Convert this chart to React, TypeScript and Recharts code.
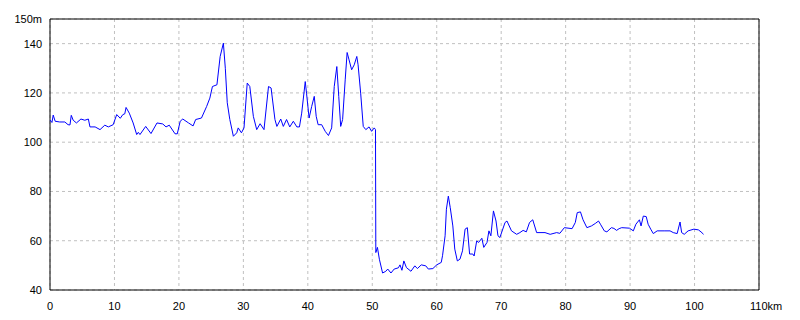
import { CartesianGrid, Line, LineChart, ReferenceArea, XAxis, YAxis } from "recharts";

const distances = [
  0, 0.3, 0.5, 0.8, 1.5, 2.3, 2.8, 3.1, 3.3, 3.6, 4.1, 4.8, 5.4, 5.95, 6.2, 7.0, 7.76, 8.5, 9.05, 9.8,
  10.35, 10.9, 11.3, 11.6, 11.8, 12.3, 12.9, 13.45, 13.7, 13.96, 14.85, 15.67, 16.6, 17.5, 18.0, 18.5,
  19.4, 19.75, 20.2, 20.6, 21.5, 22.2, 22.6, 23.5, 24.3, 24.8, 25.2, 25.9, 26.4, 26.9, 27.2, 27.5, 27.9,
  28.45, 28.97, 29.2, 29.7, 30.1, 30.6, 31.0, 31.55, 32.07, 32.6, 33.2, 33.9, 34.3, 34.9, 35.2, 35.8,
  36.2, 36.7, 37.2, 37.75, 38.3, 38.7, 39.05, 39.6, 39.8, 40.2, 40.6, 41.0, 41.3, 41.6, 42.15, 42.7,
  43.2, 43.7, 44.1, 44.5, 44.8, 45.1, 45.4, 45.8, 46.1, 46.4, 46.8, 47.2, 47.6, 47.8, 48.2, 48.6, 49.0,
  49.5, 49.9, 50.3, 50.5, 50.55, 50.8, 51.1, 51.6, 52.1, 52.4, 52.9, 53.4, 54.05, 54.3, 54.6, 54.9,
  55.3, 56.0, 56.6, 57.0, 57.6, 58.3, 58.7, 59.4, 60.0, 60.7, 60.9, 61.3, 61.5, 61.8, 62.1, 62.5, 62.8,
  63.2, 63.6, 64.0, 64.4, 64.75, 65.1, 65.6, 65.8, 66.2, 66.5, 67.0, 67.3, 67.8, 68.1, 68.4, 68.8, 69.2,
  69.5, 69.8, 70.6, 70.9, 71.6, 72.4, 72.9, 73.4, 73.9, 74.4, 74.9, 75.5, 76.8, 77.6, 78.6, 79.1, 79.8,
  81.0, 81.5, 81.8, 82.3, 82.7, 83.3, 84.0, 84.6, 85.1, 85.4, 86.0, 86.4, 87.1, 87.5, 87.9, 88.3, 88.7,
  89.9, 90.5, 90.9, 91.45, 91.7, 92.05, 92.5, 92.8, 93.2, 93.6, 94.2, 95.4, 96.2, 96.7, 97.3, 97.75,
  98.0, 98.4, 99.0, 99.9, 100.6, 101.0, 101.4,
];

const elevations = [
  109, 108, 111, 108.5, 108.2, 108.2, 107.1, 107, 110.9, 108.9, 107.8, 109.4, 108.9, 109.4, 106.2, 106.2,
  105.1, 106.9, 106.2, 107.1, 111.2, 109.7, 111.2, 111.5, 114.1, 111.8, 107.8, 103.1, 104, 103.1, 106.4,
  103.5, 107.8, 107.4, 106.2, 106.9, 103.4, 103.4, 108.5, 109.4, 107.8, 106.6, 109.2, 109.8, 114.5, 117.9,
  122.6, 123.3, 134.8, 140.2, 130, 116, 109.2, 102.4, 103.8, 105.8, 103.8, 105.8, 124, 122.6, 110.5, 105.1,
  107.5, 105.1, 122.6, 122, 109.2, 106.4, 109.4, 106.4, 109.2, 106.2, 108.5, 106.2, 106.2, 111.8, 124.6,
  119.9, 109.8, 114.5, 118.6, 110.5, 107.1, 107.1, 104.4, 102.7, 105.8, 122.6, 130.7, 118.6, 106.4, 109.2,
  125.3, 136.4, 133.4, 129.4, 131.4, 134.8, 131.4, 119.9, 106.4, 105.1, 106.2, 104.4, 105.8, 105.1, 55.2,
  57.3, 52.5, 46.9, 47.6, 48.5, 46.9, 48.5, 49, 50.2, 48, 51.8, 49.1, 47.6, 49.8, 48.7, 50.2, 49.8, 48.5,
  48.7, 50.2, 51.2, 53.9, 62, 72.8, 78.1, 73.4, 66, 56.6, 51.8, 52.5, 55.9, 64.7, 65.3, 54.6, 54.6, 53.8,
  59.9, 59.3, 61, 57.3, 59.3, 64, 62, 72.1, 68, 62, 61.3, 67.4, 68, 64, 62.6, 63.3, 64.2, 63.6, 67.4, 68.5,
  63.3, 63.3, 62.6, 63.3, 63, 65.3, 64.9, 67.4, 71.4, 71.7, 68.5, 65.3, 66, 67, 68, 66.7, 64, 63.6, 65.3,
  65, 64.2, 64.9, 65.3, 65.1, 64, 66.7, 68.5, 66, 70, 69.8, 66.7, 64.7, 62.9, 64, 64, 64, 63.3, 62.9, 67.6,
  63.3, 62.6, 64, 64.7, 64.4, 63.6, 62.6,
];

const xTicks = [0, 10, 20, 30, 40, 50, 60, 70, 80, 90, 100, 110];
const yTicks = [40, 60, 80, 100, 120, 140, 150];

const data = distances.map((km, i) => ({ km, elev: elevations[i] }));

const FONT = "'Liberation Sans', sans-serif";

function XTick(props: any) {
  const { x, y, payload } = props;
  const last = payload.value === 110;
  return (
    <text
      x={last ? x - 9 : x}
      y={y + 12}
      textAnchor={last ? "start" : "middle"}
      fontSize={11}
      fontFamily={FONT}
      fill="#000"
    >
      {last ? "110km" : payload.value}
    </text>
  );
}

export default function App() {
  return (
    <div style={{ position: "absolute", left: 0, top: 0, background: "#fff" }}>
      <LineChart
        width={800}
        height={320}
        data={data}
        margin={{ top: 19, right: 41, bottom: 0, left: 0 }}
      >
        <CartesianGrid stroke="#c0c0c0" strokeDasharray="3 3" />
        <XAxis
          dataKey="km"
          type="number"
          domain={[0, 110]}
          ticks={xTicks}
          height={30}
          axisLine={false}
          tickLine={false}
          tick={<XTick />}
          interval={0}
        />
        <YAxis
          type="number"
          domain={[40, 150]}
          ticks={yTicks}
          width={50}
          axisLine={false}
          tickLine={false}
          interval={0}
          tickFormatter={(v: number) => (v === 150 ? "150m" : String(v))}
          tick={{ fontSize: 11, fontFamily: FONT, fill: "#000" }}
        />
        <ReferenceArea
          x1={0}
          x2={110}
          y1={40}
          y2={150}
          fill="none"
          fillOpacity={0}
          stroke="#000"
          strokeWidth={1}
        />
        <Line
          type="linear"
          dataKey="elev"
          stroke="#0000ff"
          strokeWidth={1}
          dot={false}
          isAnimationActive={false}
        />
      </LineChart>
    </div>
  );
}
